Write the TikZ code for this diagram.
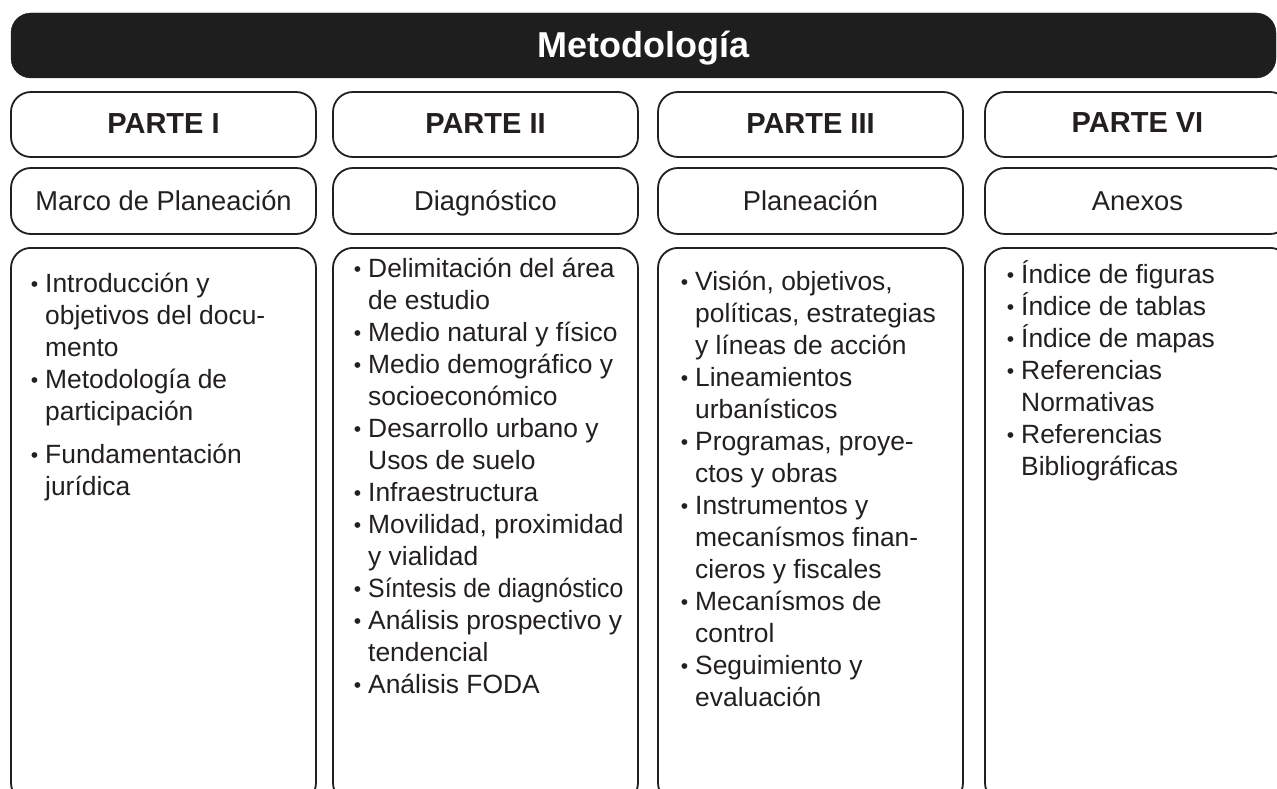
\documentclass[tikz,border=0pt]{standalone}
\usepackage{fontspec}
\setmainfont{Liberation Sans}
\definecolor{ink}{HTML}{231F20}
\definecolor{barfill}{HTML}{1E1E1E}
\newcommand\bul{\leavevmode\llap{\raisebox{1pt}{\scalebox{0.8}{\textbullet}}\hspace{7pt}}}
\newcommand\collist[1]{\parbox[t]{280pt}{\raggedright\fontsize{26.4}{32}\selectfont #1}}
\tikzset{
  box/.style={draw=ink, line width=1.8pt, rounded corners=20pt, fill=white,
    minimum width=305pt, inner sep=0pt, text=ink},
  hdrbox/.style={box, minimum height=65pt, font=\bfseries\fontsize{29}{32}\selectfont,
    text height=19pt, text depth=0pt},
  subbox/.style={box, minimum height=66pt, font=\fontsize{27.3}{30}\selectfont,
    text height=19pt, text depth=0pt},
  bodybox/.style={box, minimum height=555pt, anchor=north},
  titlebar/.style={fill=barfill, draw=barfill, rounded corners=20pt, minimum width=1265pt,
    minimum height=65pt, inner sep=0pt, text=white, font=\bfseries\fontsize{36}{40}\selectfont,
    text height=25pt, text depth=0pt},
  listtext/.style={anchor=base west, inner sep=0pt, text=ink}
}
\begin{document}
\begin{tikzpicture}[x=1pt,y=-1pt]
\useasboundingbox (0,0) rectangle (1277,789);
\node[titlebar] (title) at (643.5,45.5) {Metodología};

\node[hdrbox] (h1) at (163.5,124.5) {PARTE I};
\node[hdrbox] (h2) at (485.5,124.5) {PARTE II};
\node[hdrbox] (h3) at (810.5,124.5) {PARTE III};
\node[hdrbox, text height=15pt] (h4) at (1137.5,124.5) {PARTE VI};

\node[subbox] (s1) at (163.5,201) {Marco de Planeación};
\node[subbox] (s2) at (485.5,201) {Diagnóstico};
\node[subbox] (s3) at (810.5,201) {Planeación};
\node[subbox] (s4) at (1137.5,201) {Anexos};

\node[bodybox] (b1) at (163.5,247) {};
\node[bodybox] (b2) at (485.5,247) {};
\node[bodybox] (b3) at (810.5,247) {};
\node[bodybox] (b4) at (1137.5,247) {};

\node[listtext] (l1) at (45,292.7) {\collist{%
\bul Introducción y\\
objetivos del docu-\\
mento\\
\bul Metodología de\\
participación\\[11pt]
\bul Fundamentación\\
jurídica}};

\node[listtext] (l2) at (368,277) {\collist{%
\bul Delimitación del área\\
de estudio\\
\bul Medio natural y físico\\
\bul Medio demográfico y\\
socioeconómico\\
\bul Desarrollo urbano y\\
Usos de suelo\\
\bul Infraestructura\\
\bul Movilidad, proximidad\\
y vialidad\\
\bul \scalebox{0.94}[1]{Síntesis de diagnóstico}\\
\bul Análisis prospectivo y\\
tendencial\\
\bul Análisis FODA}};

\node[listtext] (l3) at (695,290) {\collist{%
\bul Visión, objetivos,\\
políticas, estrategias\\
y líneas de acción\\
\bul Lineamientos\\
urbanísticos\\
\bul Programas, proye-\\
ctos y obras\\
\bul Instrumentos y\\
mecanísmos finan-\\
cieros y fiscales\\
\bul Mecanísmos de\\
control\\
\bul Seguimiento y\\
evaluación}};

\node[listtext] (l4) at (1021,283) {\collist{%
\bul Índice de figuras\\
\bul Índice de tablas\\
\bul Índice de mapas\\
\bul Referencias\\
Normativas\\
\bul Referencias\\
Bibliográficas}};
\end{tikzpicture}
\end{document}
